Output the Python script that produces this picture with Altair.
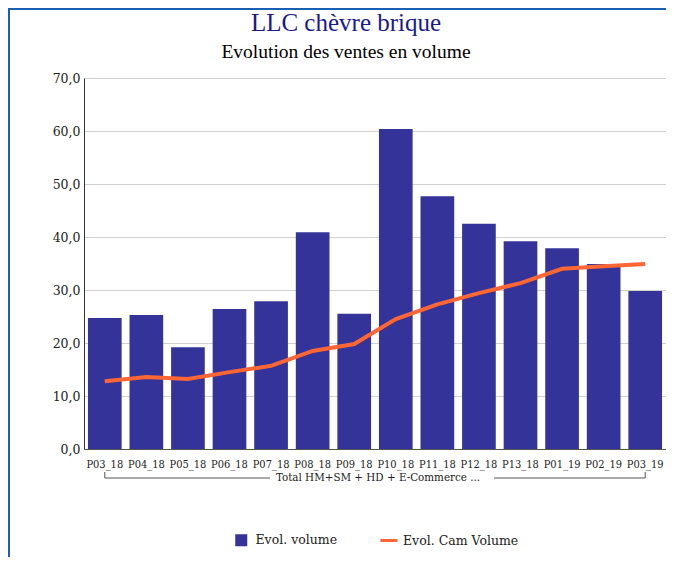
import altair as alt
import pandas as pd

categories = ["P03_18", "P04_18", "P05_18", "P06_18", "P07_18", "P08_18", "P09_18",
              "P10_18", "P11_18", "P12_18", "P13_18", "P01_19", "P02_19", "P03_19"]
evol_volume = [24.7, 25.3, 19.2, 26.4, 27.9, 40.9, 25.5, 60.4, 47.7, 42.5, 39.2, 37.9, 34.9, 29.8]
evol_cam_volume = [12.8, 13.6, 13.2, 14.5, 15.7, 18.5, 19.8, 24.5, 27.3, 29.4, 31.3, 34.0, 34.5, 34.9]
group_label = "Total HM+SM + HD + E-Commerce ..."
title_text = "LLC chèvre brique"
subtitle_text = "Evolution des ventes en volume"

df = pd.DataFrame({"periode": categories, "vol": evol_volume, "cam": evol_cam_volume})

W, H = 582, 371
SERIF = "Liberation Serif"
LAB = "DejaVu Serif"
LABC = "DejaVu Serif Condensed"

x_enc = alt.X("periode:N", sort=categories, title=None,
              scale=alt.Scale(paddingInner=0.19, paddingOuter=0.095),
              axis=alt.Axis(labelAngle=0, labelFont=LABC, labelFontSize=11, labelColor="#222",
                            labelPadding=9, ticks=False, domainColor="#555", grid=False))
y_scale = alt.Scale(domain=[0, 70])
y_axis = alt.Axis(values=[0, 10, 20, 30, 40, 50, 60, 70], title=None,
                  labelExpr="replace(format(datum.value, '.1f'), '.', ',')",
                  labelFont=LAB, labelFontSize=12.5, labelColor="#222", labelPadding=4,
                  ticks=False, domainColor="#333", gridColor="#d0d0d0")

base = alt.Chart(df)

bars = base.transform_calculate(serie="'Evol. volume'").mark_bar().encode(
    x=x_enc,
    y=alt.Y("vol:Q", scale=y_scale, axis=y_axis),
    fill=alt.Fill("serie:N", scale=alt.Scale(range=["#333399"]),
                  legend=alt.Legend(orient="none", legendX=151, legendY=456, title=None,
                                    symbolType="square", symbolSize=144, symbolStrokeWidth=0,
                                    labelFont=LAB, labelFontSize=12.5, labelColor="#222",
                                    labelOffset=8)),
)

line = base.transform_calculate(serie="'Evol. Cam Volume'").mark_line(strokeWidth=4).encode(
    x=alt.X("periode:N", sort=categories),
    y=alt.Y("cam:Q", scale=y_scale),
    stroke=alt.Stroke("serie:N", scale=alt.Scale(range=["#ff6633"]),
                      legend=alt.Legend(orient="none", legendX=295, legendY=452.5, title=None,
                                        symbolType="stroke", symbolSize=289, symbolStrokeWidth=3,
                                        labelFont=LAB, labelFontSize=12.5, labelColor="#222",
                                        labelOffset=4)),
)

one = alt.Chart(pd.DataFrame({"a": [0]}))
grp_color = "#555"
left_seg = one.mark_rule(color=grp_color, strokeWidth=1).encode(
    x=alt.datum(categories[0]), x2=alt.value(186), y=alt.value(400))
right_seg = one.mark_rule(color=grp_color, strokeWidth=1).encode(
    x=alt.datum(categories[-1]), x2=alt.value(410), y=alt.value(400))
left_tick = one.mark_rule(color=grp_color, strokeWidth=1).encode(
    x=alt.datum(categories[0]), y=alt.value(394), y2=alt.value(400))
right_tick = one.mark_rule(color=grp_color, strokeWidth=1).encode(
    x=alt.datum(categories[-1]), y=alt.value(394), y2=alt.value(400))
grp_text = one.mark_text(font=LABC, fontSize=11.5, color="#222", baseline="alphabetic").encode(
    x=alt.value(294), y=alt.value(403), text=alt.value(group_label))

title_mark = one.mark_text(font=SERIF, fontSize=25, color="#1a1a8c", baseline="alphabetic").encode(
    x=alt.value(262), y=alt.value(-47), text=alt.value(title_text))
subtitle_mark = one.mark_text(font=SERIF, fontSize=19.5, color="#000", baseline="alphabetic").encode(
    x=alt.value(262), y=alt.value(-20), text=alt.value(subtitle_text))

frame_color = "#1a5fb4"
frame_left = one.mark_rule(color=frame_color, strokeWidth=2).encode(
    x=alt.value(-75), y=alt.value(-70), y2=alt.value(H + 108))
frame_top = one.mark_rule(color=frame_color, strokeWidth=2).encode(
    x=alt.value(-76), x2=alt.value(W), y=alt.value(-69))

chart = alt.layer(bars, line, left_seg, right_seg, left_tick, right_tick, grp_text,
                  title_mark, subtitle_mark, frame_left, frame_top).properties(
    width=W, height=H,
    autosize=alt.AutoSizeParams(type="none"),
    padding={"left": 76, "top": 70, "right": 0, "bottom": 108},
).resolve_scale(fill="independent", stroke="independent").configure_view(stroke=None)

chart.save("out.html", embed_options={"renderer": "svg", "actions": False})
